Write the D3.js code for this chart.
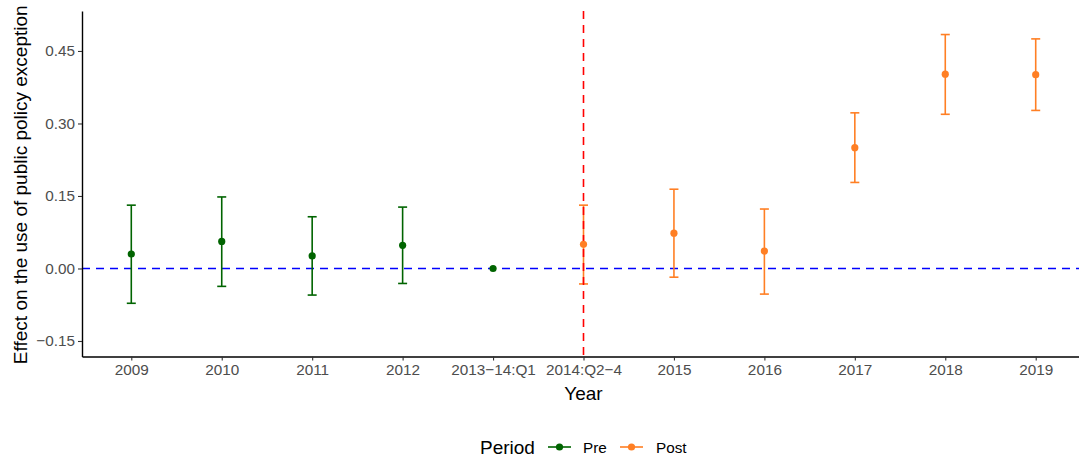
<!DOCTYPE html>
<html>
<head>
<meta charset="utf-8">
<script src="https://cdn.jsdelivr.net/npm/d3@7"></script>
<style>
  html, body { margin: 0; padding: 0; background: #fff; }
  svg { display: block; font-family: "Liberation Sans", Arial, sans-serif; }
</style>
</head>
<body>
<svg id="chart" width="1079" height="458"></svg>
<script>
// Event-study estimates by period, with 95% confidence bounds
const categories = ["2009", "2010", "2011", "2012", "2013\u221214:Q1", "2014:Q2\u22124",
                    "2015", "2016", "2017", "2018", "2019"];
const periods    = ["Pre", "Pre", "Pre", "Pre", "Pre", "Post", "Post", "Post", "Post", "Post", "Post"];
const estimates  = [0.030, 0.056, 0.026, 0.048, 0.000, 0.050, 0.073, 0.036, 0.250, 0.402, 0.401];
const lowerCI    = [-0.072, -0.037, -0.055, -0.031, 0.000, -0.032, -0.018, -0.053, 0.178, 0.319, 0.327];
const upperCI    = [0.131, 0.148, 0.107, 0.127, 0.000, 0.131, 0.164, 0.123, 0.322, 0.484, 0.475];
const yTicks     = [-0.15, 0.00, 0.15, 0.30, 0.45];
const periodLevels = ["Pre", "Post"];
const treatmentCategory = "2014:Q2\u22124";

const svg = d3.select("#chart");
const panel = { left: 82, right: 1085, top: 11, bottom: 356.5 };
const tickFont = "15.3px", titleFont = "19px";

const colour = d3.scaleOrdinal().domain(periodLevels).range(["#006400", "#FF7F24"]);

const x = d3.scalePoint()
  .domain(categories)
  .range([panel.left, panel.right])
  .padding(0.545);

const y = d3.scaleLinear()
  .domain([-0.1821, 0.5327])
  .range([panel.bottom, panel.top]);

const rows = categories.map((c, i) => ({
  cat: c, period: periods[i], est: estimates[i], lo: lowerCI[i], hi: upperCI[i]
}));

const plot = svg.append("g");

// zero reference line
plot.append("line")
  .attr("x1", panel.left).attr("x2", panel.right)
  .attr("y1", y(0)).attr("y2", y(0))
  .attr("stroke", "#0000FF").attr("stroke-width", 1.6)
  .attr("stroke-dasharray", "8,6");

// error bars
const capHalf = 4.5;
const bars = plot.selectAll("g.bar").data(rows.filter(d => d.hi !== d.lo)).join("g")
  .attr("class", "bar")
  .attr("stroke", d => colour(d.period))
  .attr("stroke-width", 1.6)
  .attr("fill", "none");
bars.append("line")
  .attr("x1", d => x(d.cat)).attr("x2", d => x(d.cat))
  .attr("y1", d => y(d.lo)).attr("y2", d => y(d.hi));
bars.append("line")
  .attr("x1", d => x(d.cat) - capHalf).attr("x2", d => x(d.cat) + capHalf)
  .attr("y1", d => y(d.hi)).attr("y2", d => y(d.hi));
bars.append("line")
  .attr("x1", d => x(d.cat) - capHalf).attr("x2", d => x(d.cat) + capHalf)
  .attr("y1", d => y(d.lo)).attr("y2", d => y(d.lo));

// treatment onset line
plot.append("line")
  .attr("x1", x(treatmentCategory)).attr("x2", x(treatmentCategory))
  .attr("y1", panel.top).attr("y2", panel.bottom)
  .attr("stroke", "#FF0000").attr("stroke-width", 1.6)
  .attr("stroke-dasharray", "8,6");

// point estimates
plot.selectAll("circle.pt").data(rows).join("circle")
  .attr("class", "pt")
  .attr("cx", d => x(d.cat)).attr("cy", d => y(d.est))
  .attr("r", 3.6)
  .attr("fill", d => colour(d.period));

// axes
const xAxis = svg.append("g")
  .attr("transform", `translate(0,${panel.bottom})`)
  .call(d3.axisBottom(x).tickSize(4).tickSizeOuter(0).tickPadding(4));
const yAxis = svg.append("g")
  .attr("transform", `translate(${panel.left},0)`)
  .call(d3.axisLeft(y).tickValues(yTicks).tickFormat(d3.format(".2f")).tickSize(4).tickSizeOuter(0).tickPadding(3));

[xAxis, yAxis].forEach(a => {
  a.select(".domain").attr("stroke", "#000").attr("stroke-width", 1.4);
  a.selectAll(".tick line").attr("stroke", "#333").attr("stroke-width", 1.1);
  a.selectAll(".tick text")
    .attr("fill", "#4D4D4D")
    .style("font-size", tickFont);
});
yAxis.selectAll(".tick text").text(d => d3.format(".2f")(d).replace("-", "\u2212"));

// axis titles
svg.append("text")
  .attr("x", x(treatmentCategory)).attr("y", 400)
  .attr("text-anchor", "middle")
  .style("font-size", titleFont).attr("fill", "#000")
  .text("Year");
svg.append("text")
  .attr("transform", `translate(26.5,${(panel.top + panel.bottom) / 2 + 1}) rotate(-90)`)
  .attr("text-anchor", "middle")
  .style("font-size", titleFont).attr("fill", "#000")
  .text("Effect on the use of public policy exception");

// legend
const legend = svg.append("g").attr("transform", "translate(0,447)");
legend.append("text")
  .attr("x", 480).attr("y", 6.5)
  .style("font-size", titleFont).attr("fill", "#000")
  .text("Period");
const keyX = [548, 620];
const labelX = [583, 656];
periodLevels.forEach((p, i) => {
  legend.append("line")
    .attr("x1", keyX[i]).attr("x2", keyX[i] + 23)
    .attr("y1", 0).attr("y2", 0)
    .attr("stroke", colour(p)).attr("stroke-width", 1.6);
  legend.append("circle")
    .attr("cx", keyX[i] + 11.5).attr("cy", 0).attr("r", 3.6)
    .attr("fill", colour(p));
  legend.append("text")
    .attr("x", labelX[i]).attr("y", 5.5)
    .style("font-size", tickFont).attr("fill", "#000")
    .text(p);
});
</script>
</body>
</html>
